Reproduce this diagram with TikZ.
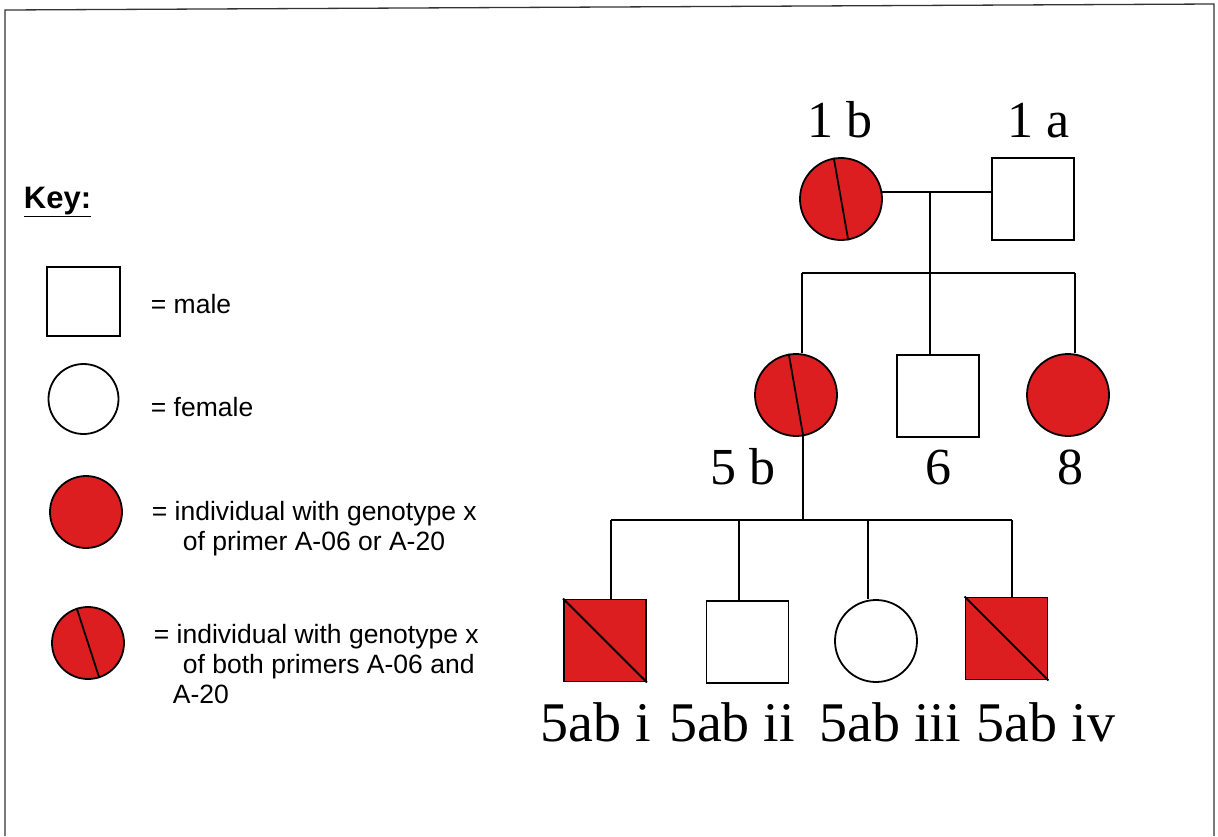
\documentclass[tikz,border=0pt]{standalone}
\usepackage{fontspec}
\setmainfont{Liberation Serif}
\setsansfont{Liberation Sans}
\definecolor{genored}{RGB}{220,30,32}
\tikzstyle{male}=[draw, rectangle, minimum size=82pt, inner sep=0pt]
\tikzstyle{female}=[draw, circle, minimum size=82pt, inner sep=0pt]
\tikzstyle{typed}=[fill=genored]
\tikzstyle{idtext}=[font=\fontsize{52}{60}\selectfont, anchor=base, inner sep=0pt]
\tikzstyle{keytext}=[font=\sffamily\fontsize{26.5}{30}\selectfont, anchor=base west, inner sep=0pt]

\begin{document}
\begin{tikzpicture}[x=1pt, y=-1pt, line width=1.8pt]
\useasboundingbox (0,0) rectangle (1218,836);
% Frame
    \draw[line width=1.3pt, black!80] (5,836) -- (5,10) -- (1214,4) -- (1214,836);
% Key
    \node[keytext, font=\sffamily\bfseries\fontsize{31}{36}\selectfont] (key) at (23,208) {\underline{Key:}};
    \node[male, minimum width=73pt, minimum height=69pt] (kmale) at (83.5,301.5) {};
    \node[keytext] (kmaletxt) at (150,313) {= male};
    \node[female, minimum size=70pt] (kfemale) at (83.5,399) {};
    \node[keytext] (kfemaletxt) at (150,416) {= female};
    \node[female, typed, minimum size=72pt] (kone) at (86,512) {};
    \node[keytext] (konetxt) at (151,520) {= individual with genotype x};
    \node[keytext] (konetxtb) at (182,550) {of primer A-06 or A-20};
    \node[female, typed, minimum size=72pt] (kboth) at (88,643) {};
    \draw (kboth.108) -- (kboth.-72);
    \node[keytext] (kbothtxt) at (153,643) {= individual with genotype x};
    \node[keytext] (kbothtxtb) at (182,673) {of both primers A-06 and};
    \node[keytext] (kbothtxtc) at (172,703) {A-20};
% Generation I
    \node[female, typed] (g1b) at (841,199) {};
    \draw (g1b.100) -- (g1b.-80);
    \node[male] (g1a) at (1033,199) {};
    \node[idtext] (l1b) at (840,137) {1 b};
    \node[idtext] (l1a) at (1039,137) {1 a};
    \coordinate (s1) at (930,273);
    \draw (g1b.10) -- (g1b.10 -| g1a.west);
    \draw (s1 |- g1b.10) -- (s1);
% Generation II
    \node[female, typed] (g5b) at (796,395) {};
    \draw (g5b.100) -- (g5b.-80);
    \node[male] (g6) at (938,396) {};
    \node[female, typed] (g8) at (1068,395) {};
    \node[idtext] (l5b) at (743,484) {5 b};
    \node[idtext] (l6) at (938,484) {6};
    \node[idtext] (l8) at (1070,484) {8};
    \coordinate (d5b) at (802,273);
    \coordinate (d8) at (1075,273);
    \draw (d5b) -- (d8);
    \draw (d5b) -- (d5b |- g5b.north);
    \draw (s1) -- (s1 |- g6.north);
    \draw (d8) -- (d8 |- g8.north);
    \coordinate (s2) at (806,520);
    \draw (g5b.-80) -- (g5b.-80 |- s2);
% Generation III
    \node[male, typed] (gi) at (605,640.5) {};
    \draw (gi.north west) -- (gi.south east);
    \node[male] (gii) at (747.5,642) {};
    \node[female] (giii) at (876,641) {};
    \node[male, typed] (giv) at (1006.5,638.5) {};
    \draw (giv.north west) -- (giv.south east);
    \node[idtext, font=\fontsize{56}{64}\selectfont] (li) at (596,741) {5ab i};
    \node[idtext, font=\fontsize{56}{64}\selectfont] (lii) at (732,741) {5ab ii};
    \node[idtext, font=\fontsize{56}{64}\selectfont] (liii) at (890,741) {5ab iii};
    \node[idtext, font=\fontsize{56}{64}\selectfont] (liv) at (1046,741) {5ab iv};
    \coordinate (d1) at (611,520);
    \coordinate (d2) at (739,520);
    \coordinate (d3) at (868,520);
    \coordinate (d4) at (1012,520);
    \draw (d1) -- (d4);
    \draw (d1) -- (d1 |- gi.north);
    \draw (d2) -- (d2 |- gii.north);
    \draw (d3) -- (d3 |- giii.north);
    \draw (d4) -- (d4 |- giv.north);
\end{tikzpicture}
\end{document}
